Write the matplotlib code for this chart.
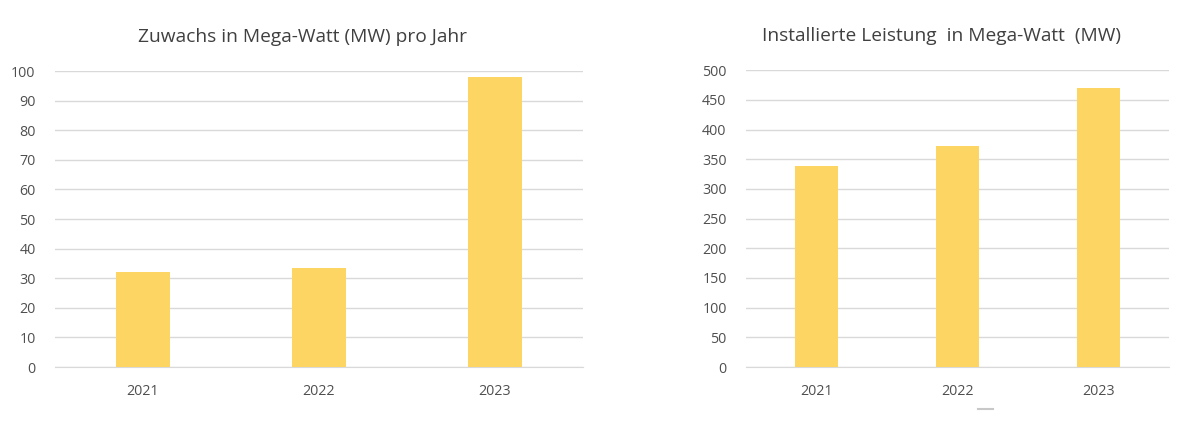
import matplotlib
matplotlib.use("Agg")
import matplotlib.pyplot as plt
from matplotlib.lines import Line2D
import numpy as np

plt.rcParams['font.family'] = ['Open Sans', 'DejaVu Sans']

years = ["2021", "2022", "2023"]
zuwachs = [32, 33.3, 98]
leistung = [338, 372, 470]

title_left = "Zuwachs in Mega-Watt (MW) pro Jahr"
title_right = "Installierte Leistung  in Mega-Watt  (MW)"

bar_color = "#FDD563"
grid_color = "#D9D9D9"
text_color = "#4F4F4F"

fig = plt.figure(figsize=(12, 4.24), dpi=100)
ax1 = fig.add_axes([0.0458, 0.1344, 0.44, 0.698])
ax2 = fig.add_axes([0.6217, 0.1344, 0.3525, 0.700])

def style(ax, vals, ymax, step, title, tx):
    x = np.arange(len(years))
    ax.bar(x, vals, width=0.31, color=bar_color, zorder=3)
    ax.set_xlim(-0.5, len(years) - 0.5)
    ax.set_ylim(0, ymax)
    ax.set_yticks(np.arange(0, ymax + 1, step))
    ax.set_xticks(x)
    ax.set_xticklabels(years)
    ax.yaxis.grid(True, color=grid_color, linewidth=1)
    ax.set_axisbelow(True)
    for s in ["top", "right", "left"]:
        ax.spines[s].set_visible(False)
    ax.spines["bottom"].set_color(grid_color)
    ax.tick_params(axis="both", length=0, labelsize=10.3, colors=text_color)
    ax.tick_params(axis="x", pad=12)
    ax.tick_params(axis="y", pad=14)
    ax.set_title(title, fontsize=13.8, color="#404040", pad=21, x=tx)

style(ax1, zuwachs, 100, 10, title_left, 0.468)
style(ax2, leistung, 500, 50, title_right, 0.463)

# small grey dash below the right chart
fig.add_artist(Line2D([978 / 1200, 993 / 1200], [1 - 409 / 424, 1 - 409 / 424],
                      color="#C8C8C8", linewidth=1.5))

fig.savefig("out.png", dpi=100, facecolor="white")
